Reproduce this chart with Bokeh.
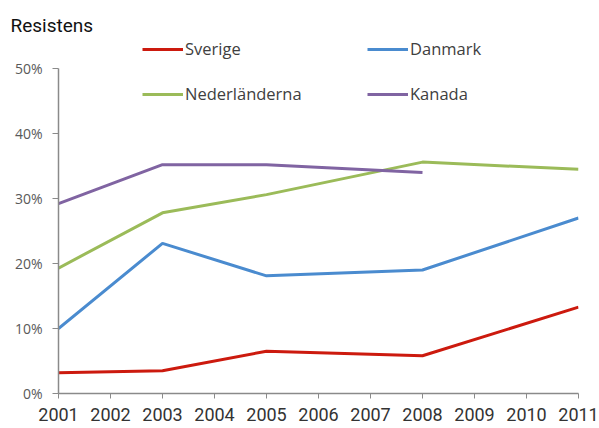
from bokeh.plotting import figure
from bokeh.models import Range1d, FixedTicker, NumeralTickFormatter, Legend, LegendItem
from bokeh.embed import file_html
from bokeh.resources import INLINE

# Data (fractions)
years = [2001, 2003, 2005, 2008, 2011]
sverige = [0.032, 0.035, 0.065, 0.058, 0.133]
danmark = [0.100, 0.231, 0.181, 0.190, 0.270]
nederlanderna = [0.193, 0.278, 0.306, 0.356, 0.345]
kanada_years = [2001, 2003, 2005, 2008]
kanada = [0.292, 0.352, 0.352, 0.340]

x_ticks = list(range(2001, 2012))
y_ticks = [0.0, 0.1, 0.2, 0.3, 0.4, 0.5]
title_text = "Resistens"

p = figure(width=599, height=428, output_backend="svg", toolbar_location=None,
           x_range=Range1d(2001, 2011), y_range=Range1d(0, 0.5462),
           min_border_left=58, min_border_right=21, min_border_top=38,
           min_border_bottom=35)
p.outline_line_color = None
p.xgrid.visible = False
p.ygrid.visible = False

p.title.text = title_text
p.title.align = "left"
p.title.offset = -48
p.title.standoff = 4
p.title.text_font = "Roboto"
p.title.text_font_style = "normal"
p.title.text_font_size = "19px"
p.title.text_color = "#111111"

r_sv = p.line(years, sverige, line_color="#CC1A0E", line_width=3)
r_dk = p.line(years, danmark, line_color="#4A8BCF", line_width=3)
r_nl = p.line(years, nederlanderna, line_color="#9BBB59", line_width=3)
r_ca = p.line(kanada_years, kanada, line_color="#8064A2", line_width=3)

axis_col = "#8A8A8A"
# y axis
p.yaxis.ticker = FixedTicker(ticks=y_ticks)
p.yaxis.formatter = NumeralTickFormatter(format="0%")
p.yaxis.bounds = (0, 0.5)
p.yaxis.axis_line_color = axis_col
p.yaxis.axis_line_width = 1.5
p.yaxis.major_tick_line_color = axis_col
p.yaxis.major_tick_in = 0
p.yaxis.major_tick_out = 6
p.yaxis.minor_tick_line_color = None
p.yaxis.major_label_standoff = 10
p.yaxis.major_label_text_font = "Open Sans"
p.yaxis.major_label_text_font_size = "14px"
p.yaxis.major_label_text_color = "#595959"

# x axis
p.xaxis.ticker = FixedTicker(ticks=x_ticks)
p.xaxis.axis_line_color = axis_col
p.xaxis.axis_line_width = 1.5
p.xaxis.major_tick_line_color = axis_col
p.xaxis.major_tick_in = 0
p.xaxis.major_tick_out = 5
p.xaxis.minor_tick_line_color = None
p.xaxis.major_label_standoff = 9
p.xaxis.major_label_text_font = "Roboto"
p.xaxis.major_label_text_font_size = "18px"
p.xaxis.major_label_text_color = "#333333"

def make_legend(items, x):
    leg = Legend(items=items, location=(x, 288), orientation="vertical",
                 glyph_width=41, glyph_height=20, label_height=20, spacing=22,
                 padding=0, margin=0, label_standoff=2,
                 border_line_color=None, background_fill_alpha=0,
                 label_text_font="Open Sans", label_text_font_size="16.5px",
                 label_text_color="#404040")
    return leg

leg1 = make_legend([LegendItem(label="Sverige", renderers=[r_sv]),
                    LegendItem(label="Nederländerna", renderers=[r_nl])], 84)
leg2 = make_legend([LegendItem(label="Danmark", renderers=[r_dk]),
                    LegendItem(label="Kanada", renderers=[r_ca])], 309)
p.add_layout(leg1)
p.add_layout(leg2)

open("out.html", "w").write(file_html(p, INLINE))
